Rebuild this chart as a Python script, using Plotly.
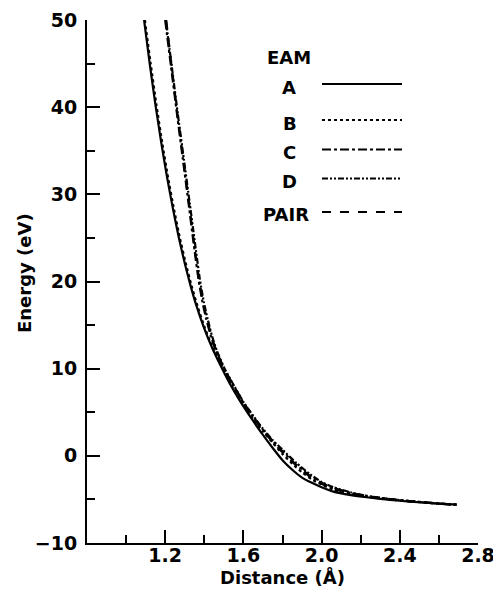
import plotly.graph_objects as go

# ---- data ----
x_A = [1.092, 1.12, 1.15, 1.18, 1.21, 1.24, 1.27, 1.30, 1.33, 1.36, 1.40, 1.44, 1.48, 1.53, 1.58, 1.65, 1.70, 1.75, 1.80, 1.85, 1.90, 1.95, 2.00, 2.06, 2.15, 2.23, 2.35, 2.45, 2.58, 2.69]
E_A = [50, 45.1, 40.3, 35.9, 31.9, 28.3, 25.0, 22.1, 19.5, 17.2, 14.6, 12.4, 10.5, 8.3, 6.4, 4.0, 2.4, 0.9, -0.5, -1.6, -2.5, -3.1, -3.6, -4.1, -4.5, -4.75, -5.05, -5.25, -5.45, -5.6]

x_B = [1.096, 1.125, 1.155, 1.185, 1.215, 1.245, 1.275, 1.305, 1.335, 1.365, 1.404, 1.444, 1.484, 1.533, 1.582, 1.65, 1.70, 1.75, 1.80, 1.85, 1.90, 1.95, 2.00, 2.06, 2.15, 2.23, 2.35, 2.45, 2.58, 2.69]
E_B = [50, 45.1, 40.3, 35.9, 31.9, 28.3, 25.0, 22.1, 19.5, 17.2, 14.6, 12.4, 10.5, 8.3, 6.4, 4.2, 2.8, 1.5, 0.2, -0.9, -1.9, -2.7, -3.3, -3.9, -4.4, -4.7, -5.0, -5.2, -5.45, -5.6]

x_C = [1.200, 1.23, 1.26, 1.29, 1.32, 1.35, 1.37, 1.39, 1.41, 1.434, 1.46, 1.50, 1.55, 1.60, 1.65, 1.70, 1.75, 1.80, 1.87, 1.94, 2.00, 2.06, 2.15, 2.23, 2.35, 2.45, 2.58, 2.69]
E_C = [50, 44.6, 39.3, 34.1, 28.9, 23.6, 20.3, 17.7, 15.7, 13.7, 12.0, 10.0, 8.0, 6.1, 4.5, 3.0, 1.7, 0.5, -1.0, -2.3, -3.1, -3.7, -4.25, -4.6, -4.95, -5.2, -5.45, -5.6]

x_D = [1.203, 1.234, 1.264, 1.295, 1.326, 1.357, 1.377, 1.397, 1.417, 1.440, 1.465, 1.504, 1.553, 1.602, 1.65, 1.70, 1.75, 1.80, 1.87, 1.94, 2.00, 2.06, 2.15, 2.23, 2.35, 2.45, 2.58, 2.69]
E_D = [50, 44.6, 39.3, 34.1, 28.9, 23.6, 20.3, 17.7, 15.7, 13.7, 12.0, 10.0, 8.0, 6.1, 4.6, 3.1, 1.8, 0.7, -0.8, -2.1, -3.0, -3.6, -4.2, -4.6, -4.95, -5.2, -5.45, -5.6]

x_PAIR = [1.205, 1.233, 1.262, 1.292, 1.322, 1.352, 1.373, 1.393, 1.413, 1.437, 1.462, 1.502, 1.552, 1.601, 1.65, 1.70, 1.75, 1.80, 1.87, 1.94, 2.00, 2.06, 2.15, 2.23, 2.35, 2.45, 2.58, 2.69]
E_PAIR = [50, 44.6, 39.3, 34.1, 28.9, 23.6, 20.3, 17.7, 15.7, 13.7, 12.0, 10.0, 8.0, 6.1, 4.4, 2.9, 1.6, 0.4, -1.1, -2.4, -3.2, -3.8, -4.3, -4.65, -5.0, -5.2, -5.45, -5.6]

series_names = ["A", "B", "C", "D", "PAIR"]
series_x = [x_A, x_B, x_C, x_D, x_PAIR]
series_y = [E_A, E_B, E_C, E_D, E_PAIR]
dashes = ["solid", "dot", "dashdot", "6px,2px,2px,2px,2px,2px", "dash"]

x_major = [1.2, 1.6, 2.0, 2.4, 2.8]
x_major_text = ["1.2", "1.6", "2.0", "2.4", "2.8"]
x_minor = [1.0, 1.4, 1.8, 2.2, 2.6]
y_major = [-10, 0, 10, 20, 30, 40, 50]
y_major_text = ["−10", "0", "10", "20", "30", "40", "50"]
y_minor = [-5, 5, 15, 25, 35, 45]

FONT = "DejaVu Sans"

fig = go.Figure()
for name, xs, ys, d in zip(series_names, series_x, series_y, dashes):
    fig.add_trace(go.Scatter(x=xs, y=ys, mode="lines", name=name,
                             line=dict(color="black", width=2.2, dash=d, shape="spline", smoothing=0.5),
                             showlegend=False))

# page body has an 8px margin; target plot area in window pixels: x 87..478, y 20..543
OFF = 8
W, H = 501 - OFF, 594 - OFF
L, R, T, B = 87, 478, 20, 543
def px(xp):
    return (xp - L) / (R - L)
def py(yp):
    return (B - yp) / (B - T)

# custom legend
fig.add_annotation(x=px(289), y=py(57), xref="paper", yref="paper", text="EAM", showarrow=False,
                   font=dict(family=FONT, size=18, color="black", weight="bold"), xanchor="center", yanchor="middle")
leg_label_y = [88, 123, 152, 181, 214]
leg_line_y = [84, 120, 149.5, 178.5, 212]
leg_label_x = [289, 289.5, 289, 289, 285.5]
for name, ly, lly, lx, d in zip(series_names, leg_label_y, leg_line_y, leg_label_x, dashes):
    fig.add_annotation(x=px(lx), y=py(ly), xref="paper", yref="paper", text=name, showarrow=False,
                       font=dict(family=FONT, size=18, color="black", weight="bold"),
                       xanchor="center", yanchor="middle")
    fig.add_shape(type="line", xref="paper", yref="paper", x0=px(322), x1=px(402), y0=py(lly), y1=py(lly),
                  line=dict(color="black", width=2, dash=d))

# y axis title as rotated text
fig.add_annotation(x=px(24), y=py(273), xref="paper", yref="paper", text="Energy (eV)", showarrow=False,
                   textangle=-90, font=dict(family=FONT, size=18, color="black", weight="bold"),
                   xanchor="center", yanchor="middle")

axis_common = dict(showgrid=False, zeroline=False, showline=True, linecolor="black", linewidth=2,
                   ticks="inside", ticklen=13, tickwidth=2, tickcolor="black", automargin=False,
                   tickfont=dict(family=FONT, size=19, color="black", weight="bold"))

fig.update_xaxes(range=[0.8, 2.8], tickmode="array", tickvals=x_major, ticktext=x_major_text,
                 minor=dict(tickmode="array", tickvals=x_minor, ticks="inside", ticklen=8, tickwidth=2, tickcolor="black"),
                 title=dict(text="Distance (Å)", font=dict(family=FONT, size=18, color="black", weight="bold"), standoff=6),
                 ticklabelstandoff=-6,
                 **axis_common)
fig.update_yaxes(range=[-10, 50], tickmode="array", tickvals=y_major, ticktext=y_major_text,
                 minor=dict(tickmode="array", tickvals=y_minor, ticks="inside", ticklen=8, tickwidth=2, tickcolor="black"),
                 ticklabelstandoff=4,
                 **axis_common)

fig.update_layout(width=W, height=H,
                  margin=dict(l=L - OFF, r=W - (R - OFF), t=T - OFF, b=H - (B - OFF)),
                  plot_bgcolor="white", paper_bgcolor="white", showlegend=False)

fig.write_html("out.html")
